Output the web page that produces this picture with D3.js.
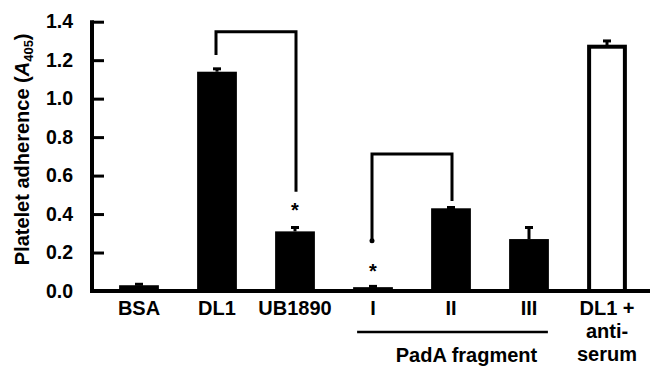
<!DOCTYPE html>
<html>
<head>
<meta charset="utf-8">
<script src="https://cdn.jsdelivr.net/npm/d3@7"></script>
<style>
    body { margin: 0; background: #fff; }
    text { font-family: "Liberation Sans", Arial, Helvetica, sans-serif; font-weight: bold; fill: #000; }
</style>
</head>
<body>
<div id="chart"></div>
<script>
(function () {
    "use strict";

    const categories = ["BSA", "DL1", "UB1890", "I", "II", "III", "DL1 anti"];
    const tickLabels = ["BSA", "DL1", "UB1890", "I", "II", "III", "DL1 +\nanti-\nserum"];
    const values = [0.03, 1.14, 0.31, 0.02, 0.43, 0.27, 1.27];
    const errors = [0.005, 0.015, 0.02, 0.004, 0.004, 0.06, 0.03];
    const hollow = [false, false, false, false, false, false, true];
    const yTicks = [0, 0.2, 0.4, 0.6, 0.8, 1.0, 1.2, 1.4];

    // brackets: from, to, top, left leg end, right leg end
    const brackets = [
        { from: "DL1", to: "UB1890", top: 1.348, leftEnd: 1.227, rightEnd: 0.516, dot: false },
        { from: "I", to: "II", top: 0.712, leftEnd: 0.261, rightEnd: 0.468, dot: true }
    ];
    const stars = [
        { cat: "UB1890", value: 0.44 },
        { cat: "I", value: 0.125 }
    ];
    const groupLabel = { from: "I", to: "III", text: "PadA fragment" };

    const width = 650;
    const height = 367;
    const margin = { top: 22, right: 4, bottom: 76, left: 92 };

    const svg = d3.select("#chart").append("svg")
        .attr("width", width)
        .attr("height", height);

    const xScale = d3.scaleBand()
        .domain(categories)
        .range([100, 646])
        .paddingInner(0.49)
        .paddingOuter(0.245);

    const yScale = d3.scaleLinear()
        .domain([0, 1.4])
        .range([291, 21.7]);

    const cx = c => xScale(c) + xScale.bandwidth() / 2;

    // bars
    const bw = xScale.bandwidth();
    svg.append("g")
        .selectAll("rect")
        .data(categories)
        .join("rect")
        .attr("x", (d, i) => hollow[i] ? xScale(d) + 2 : xScale(d))
        .attr("width", (d, i) => hollow[i] ? bw - 4 : bw)
        .attr("y", (d, i) => yScale(values[i]))
        .attr("height", (d, i) => yScale(0) - yScale(values[i]))
        .attr("fill", (d, i) => hollow[i] ? "#fff" : "#000")
        .attr("stroke", (d, i) => hollow[i] ? "#000" : "none")
        .attr("stroke-width", 4);

    // error bars
    const err = svg.append("g")
        .attr("stroke", "#000")
        .attr("stroke-width", 3);

    categories.forEach((c, i) => {
        const x = cx(c);
        const top = yScale(values[i] + errors[i]);
        err.append("line")
            .attr("x1", x).attr("x2", x)
            .attr("y1", yScale(values[i])).attr("y2", top);
        err.append("line")
            .attr("x1", x - 4).attr("x2", x + 4)
            .attr("y1", top).attr("y2", top);
    });

    // brackets
    const br = svg.append("g")
        .attr("fill", "none")
        .attr("stroke", "#000")
        .attr("stroke-width", 3);

    for (const b of brackets) {
        const x1 = cx(b.from) - 1;
        const x2 = cx(b.to) + 1;
        br.append("path")
            .attr("d", `M${x1},${yScale(b.leftEnd)}V${yScale(b.top)}H${x2}V${yScale(b.rightEnd)}`);
        if (b.dot) {
            svg.append("circle")
                .attr("cx", x1)
                .attr("cy", yScale(b.leftEnd))
                .attr("r", 2.5)
                .attr("fill", "#000");
        }
    }

    svg.append("g")
        .selectAll("text")
        .data(stars)
        .join("text")
        .attr("x", d => cx(d.cat))
        .attr("y", d => yScale(d.value))
        .attr("dy", "0.55em")
        .attr("text-anchor", "middle")
        .style("font-size", "20px")
        .text("*");

    // y axis
    const yAxis = d3.axisLeft(yScale)
        .tickValues(yTicks)
        .tickFormat(d3.format(".1f"))
        .tickSizeInner(-12)
        .tickSizeOuter(0)
        .tickPadding(19);

    const yAxisG = svg.append("g")
        .attr("transform", `translate(${margin.left},0)`)
        .call(yAxis);

    yAxisG.select(".domain").remove();
    yAxisG.selectAll(".tick line")
        .attr("stroke", "#000")
        .attr("stroke-width", 3);
    yAxisG.selectAll(".tick text")
        .style("font-size", "19.5px");

    svg.append("path")
        .attr("d", `M${margin.left},${yScale(1.4) - 1.5}V${yScale(0) + 2}`)
        .attr("stroke", "#000")
        .attr("stroke-width", 4);

    // x axis
    const xAxis = d3.axisBottom(xScale)
        .tickSize(0)
        .tickPadding(10)
        .tickFormat((d, i) => tickLabels[i]);

    const xAxisG = svg.append("g")
        .attr("transform", `translate(0,${yScale(0)})`)
        .call(xAxis);

    xAxisG.select(".domain").remove();
    xAxisG.selectAll(".tick text")
        .style("font-size", "20px")
        .each(function (d, i) {
            const lines = tickLabels[i].split("\n");
            const t = d3.select(this).text(null);
            lines.forEach((line, k) => {
                t.append("tspan")
                    .attr("x", 0)
                    .attr("dy", k === 0 ? "0.71em" : "1.15em")
                    .text(line);
            });
        })
        .attr("dy", null);

    svg.append("path")
        .attr("d", `M${margin.left - 2},${yScale(0)}H${width}`)
        .attr("stroke", "#000")
        .attr("stroke-width", 4);

    // group label
    const gx1 = xScale(groupLabel.from) + 4;
    const gx2 = xScale(groupLabel.to) + bw - 1;
    svg.append("line")
        .attr("x1", gx1).attr("x2", gx2)
        .attr("y1", 332).attr("y2", 332)
        .attr("stroke", "#000")
        .attr("stroke-width", 2.5);

    svg.append("text")
        .attr("x", (gx1 + gx2) / 2 + 14)
        .attr("y", 362)
        .attr("text-anchor", "middle")
        .style("font-size", "20px")
        .text(groupLabel.text);

    // y title
    const title = svg.append("text")
        .attr("transform", `translate(29,${(yScale(0) + yScale(1.4)) / 2 - 7}) rotate(-90)`)
        .attr("text-anchor", "middle")
        .style("font-size", "20px");
    title.append("tspan").text("Platelet adherence (");
    title.append("tspan").style("font-style", "italic").text("A");
    title.append("tspan").attr("dy", 4).style("font-size", "13px").text("405");
    title.append("tspan").attr("dy", -4).text(")");
}());
</script>
</body>
</html>
